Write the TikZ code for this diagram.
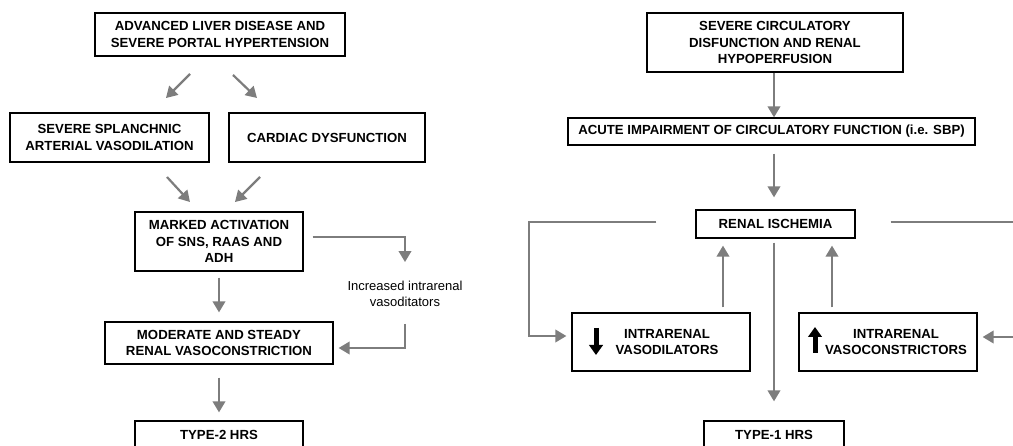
\documentclass[tikz,border=0pt]{standalone}
\usepackage{fontspec}
\setmainfont{Liberation Sans}
\usetikzlibrary{arrows.meta}
\definecolor{arrgray}{RGB}{125,125,125}
\tikzset{
  box/.style={draw=black, line width=1.3pt, rectangle, align=center, inner sep=2pt,
    font=\fontsize{13.2}{16.5}\selectfont\bfseries},
  arr/.style={draw=arrgray, line width=2.2pt, -{Triangle[width=12.5pt,length=11pt]}},
  bigarr/.style={draw=black, line width=5pt, -{Triangle[width=13.5pt,length=10pt]}},
  lbl/.style={align=center, font=\fontsize{13}{16}\selectfont, inner sep=1pt}
}
\begin{document}
\begin{tikzpicture}[x=1pt,y=-1pt]
\useasboundingbox (0,0) rectangle (1013,446);
\clip (0,0) rectangle (1013,446);
\fill[white] (0,0) rectangle (1013,446);
% left panel
\node[box, minimum width=250pt, minimum height=43pt] (A) at (220,34.5) {ADVANCED LIVER DISEASE AND\\SEVERE PORTAL HYPERTENSION};
\node[box, minimum width=199pt, minimum height=49pt] (B) at (109.5,137.5) {SEVERE SPLANCHNIC\\ARTERIAL VASODILATION};
\node[box, minimum width=196pt, minimum height=49pt] (C) at (327,137.5) {CARDIAC DYSFUNCTION};
\node[box, minimum width=168pt, minimum height=59pt] (D) at (219,241.5) {MARKED ACTIVATION\\OF SNS, RAAS AND\\ADH};
\node[box, minimum width=228pt, minimum height=42pt] (E) at (219,343) {MODERATE AND STEADY\\RENAL VASOCONSTRICTION};
\node[box, minimum width=168pt, minimum height=28pt] (F) at (219,435) {TYPE-2 HRS};
\node[lbl] (inc) at (405,294) {Increased intrarenal\\vasoditators};
\coordinate (a1s) at (190,74);
\coordinate (a1e) at (166,98);
\coordinate (a2s) at (233,75);
\coordinate (a2e) at (257,98);
\coordinate (a3s) at (167,177);
\coordinate (a3e) at (190,202);
\coordinate (a4s) at (260,177);
\coordinate (a4e) at (235,202);
\draw[arr] (a1s) -- (a1e);
\draw[arr] (a2s) -- (a2e);
\draw[arr] (a3s) -- (a3e);
\draw[arr] (a4s) -- (a4e);
\draw[arr, shorten <=6pt, shorten >=9pt] (D) -- (E);
\draw[arr, shorten <=13pt, shorten >=8pt] (E) -- (F);
\draw[arr] ([xshift=9pt,yshift=4.5pt]D.east) -| ([yshift=18pt]inc.north);
\draw[arr] ([yshift=-16pt]inc.south) |- ([xshift=5pt,yshift=-5pt]E.east);
% right panel
\node[box, minimum width=256pt, minimum height=59pt] (G) at (775,42.5) {SEVERE CIRCULATORY\\DISFUNCTION AND RENAL\\HYPOPERFUSION};
\node[box, minimum width=407pt, minimum height=27pt] (H) at (771.5,131.5) {ACUTE IMPAIRMENT OF CIRCULATORY FUNCTION (i.e. SBP)};
\node[box, minimum width=159pt, minimum height=28pt] (I) at (775.5,224) {RENAL ISCHEMIA};
\node[box, minimum width=178pt, minimum height=58pt] (J) at (661,342) {\hspace*{12pt}INTRARENAL\\\hspace*{12pt}VASODILATORS};
\node[box, minimum width=178pt, minimum height=58pt] (K) at (888,342) {\hspace*{16pt}INTRARENAL\\\hspace*{16pt}VASOCONSTRICTORS};
\node[box, minimum width=140pt, minimum height=28pt] (L) at (774,435) {TYPE-1 HRS};
\draw[arr] ([xshift=-1pt]G.south) -- ([xshift=2.5pt]H.north);
\draw[arr, shorten <=8pt, shorten >=12pt] ([xshift=2.5pt]H.south) -- ([xshift=-1.5pt]I.north);
\draw[arr, shorten <=4pt, shorten >=19pt] ([xshift=-1.5pt]I.south) -- (L.north);
\draw[arr, shorten <=5pt, shorten >=7pt] ([xshift=62pt]J.north) -- ([xshift=-52.5pt]I.south);
\draw[arr, shorten <=5pt, shorten >=7pt] ([xshift=-56pt]K.north) -- ([xshift=56.5pt]I.south);
\draw[arr] ([xshift=-39pt,yshift=2pt]I.west) -| ([xshift=-42pt,yshift=6pt]J.west) -- ([xshift=-5pt,yshift=6pt]J.west);
\draw[arr] ([xshift=35pt,yshift=2pt]I.east) -| ([xshift=50pt,yshift=5pt]K.east) -- ([xshift=5pt,yshift=5pt]K.east);
% inner arrows
\draw[bigarr] (596,328) -- (596,355);
\draw[bigarr] (815,353) -- (815,327);
\end{tikzpicture}
\end{document}
